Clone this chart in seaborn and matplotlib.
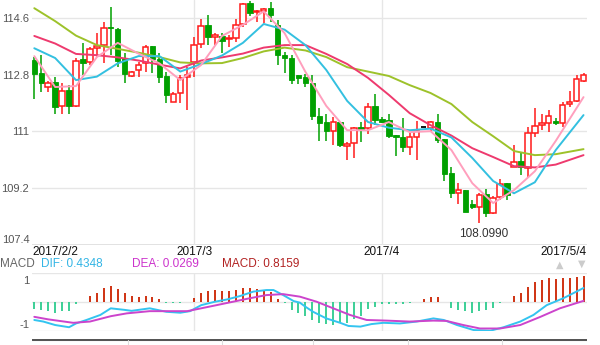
import numpy as np
import pandas as pd
import matplotlib
matplotlib.use("Agg")
import matplotlib.pyplot as plt
import seaborn as sns

# ---------------- data ----------------
x_labels = ["2017/2/2", "2017/3", "2017/4", "2017/5/4"]
x_label_idx = [0, 23, 50, 79]
price_ticks = [107.4, 109.2, 111, 112.8, 114.6]

opens = [113.27, 112.86, 112.40, 112.56, 111.81, 112.31, 111.81, 113.29, 113.19, 113.64,
         113.74, 114.32, 114.24, 113.32, 112.77, 112.95, 113.16, 113.71, 113.29, 112.76,
         111.95, 112.21, 112.72, 113.19, 113.77, 114.38, 113.99, 114.04, 113.92, 113.96,
         114.41, 115.09, 114.78, 114.83, 114.91, 114.38, 113.43, 113.32, 112.79, 112.74,
         112.55, 111.49, 111.29, 111.02, 111.29, 110.55, 110.62, 111.13, 111.10, 111.81,
         111.39, 111.36, 110.89, 110.83, 110.50, 110.83, 111.13, 111.10, 111.29, 110.76,
         109.67, 109.05, 109.14, 108.70, 108.61, 109.03, 108.42, 108.91, 109.38, 109.88,
         110.06, 109.83, 110.96, 111.20, 111.26, 111.33, 111.28, 111.86, 111.96, 112.61]
highs = [113.36, 113.43, 112.60, 112.74, 112.53, 112.47, 113.32, 113.82, 113.69, 114.13,
         114.46, 114.94, 114.27, 113.48, 112.93, 113.21, 113.74, 113.71, 113.48, 112.90,
         112.26, 112.79, 113.05, 114.01, 114.56, 114.70, 114.11, 114.11, 114.06, 114.56,
         115.06, 115.15, 114.85, 114.91, 115.12, 114.54, 113.53, 113.43, 112.79, 112.82,
         112.79, 111.73, 111.57, 111.45, 111.29, 110.67, 111.15, 111.31, 111.91, 112.19,
         111.47, 111.57, 110.89, 111.42, 110.96, 111.33, 111.13, 111.33, 111.55, 110.76,
         109.86, 109.37, 109.14, 108.82, 109.05, 109.19, 108.95, 109.48, 109.38, 110.57,
         110.36, 111.15, 111.73, 111.57, 111.68, 111.42, 111.94, 112.28, 112.79, 112.86]
lows = [112.03, 112.26, 112.26, 111.57, 111.55, 111.57, 111.78, 112.79, 113.11, 113.37,
        113.18, 113.43, 113.05, 112.53, 112.74, 112.74, 112.90, 112.86, 112.53, 111.89,
        111.94, 111.89, 111.68, 112.74, 113.64, 113.74, 113.74, 113.50, 113.69, 113.85,
        114.32, 114.66, 114.48, 114.43, 114.48, 113.11, 112.84, 112.50, 112.50, 112.42,
        111.36, 110.70, 110.70, 110.57, 110.50, 110.09, 110.15, 110.67, 110.92, 111.20,
        111.26, 110.78, 110.22, 110.36, 110.25, 110.09, 111.13, 110.99, 110.62, 109.43,
        108.88, 108.70, 108.45, 108.53, 108.099, 108.29, 108.38, 108.84, 108.84, 109.86,
        109.62, 109.56, 110.83, 111.04, 110.99, 111.20, 111.15, 111.78, 111.94, 112.58]
closes = [112.82, 112.55, 112.53, 111.78, 112.29, 111.81, 113.23, 113.18, 113.61, 113.72,
          114.27, 114.27, 113.24, 112.82, 112.90, 113.11, 113.67, 113.29, 112.72, 112.16,
          112.18, 112.69, 112.78, 113.74, 114.35, 113.99, 114.06, 113.88, 113.96, 114.38,
          115.04, 114.75, 114.82, 114.88, 114.70, 113.43, 113.32, 112.63, 112.71, 112.53,
          111.49, 111.28, 111.02, 111.29, 110.57, 110.59, 111.10, 111.08, 111.78, 111.36,
          111.31, 110.85, 110.81, 110.50, 110.83, 111.01, 111.13, 111.29, 110.73, 109.65,
          109.05, 109.14, 108.45, 108.59, 109.00, 108.42, 108.88, 109.35, 108.98, 110.02,
          109.86, 110.96, 111.17, 111.26, 111.49, 111.28, 111.84, 111.92, 112.65, 112.79]

ma_idx = [0, 3, 6, 9, 12, 15, 18, 21, 24, 27, 30, 33, 36, 39, 42, 45, 48, 51, 54, 57,
          60, 63, 66, 69, 72, 75, 79]
ma5 = [113.39, 112.41, 112.44, 113.36, 113.81, 113.47, 113.16, 112.63, 113.11, 114.03,
       114.38, 114.81, 114.12, 112.89, 111.81, 111.04, 111.04, 111.30, 110.98, 111.01,
       110.41, 109.36, 108.73, 109.14, 109.74, 110.70, 112.09]
ma10 = [113.64, 113.33, 112.63, 112.74, 113.16, 113.39, 113.39, 112.90, 113.14, 113.41,
        113.81, 114.41, 114.23, 113.74, 112.95, 111.97, 111.30, 111.12, 111.04, 111.09,
        110.81, 110.16, 109.43, 109.04, 109.39, 110.41, 111.52]
ma20 = [114.03, 113.79, 113.46, 113.42, 113.35, 113.25, 113.12, 113.00, 113.25, 113.35,
        113.47, 113.66, 113.74, 113.74, 113.46, 113.14, 112.70, 112.16, 111.58, 111.20,
        110.87, 110.47, 110.19, 109.90, 109.86, 109.95, 110.25]
ma30 = [114.91, 114.50, 114.04, 113.74, 113.62, 113.50, 113.36, 113.19, 113.16, 113.17,
        113.33, 113.54, 113.66, 113.57, 113.36, 113.04, 112.90, 112.76, 112.47, 112.22,
        111.87, 111.30, 110.85, 110.38, 110.25, 110.28, 110.44]

macd_hist = [-0.23, -0.27, -0.29, -0.35, -0.31, -0.29, -0.07, -0.01, 0.18, 0.29,
             0.42, 0.50, 0.40, 0.27, 0.18, 0.16, 0.19, 0.16, 0.07, -0.03,
             -0.05, -0.03, -0.02, 0.13, 0.29, 0.34, 0.37, 0.35, 0.35, 0.37,
             0.42, 0.44, 0.40, 0.37, 0.31, 0.10, -0.05, -0.27, -0.37, -0.45,
             -0.58, -0.69, -0.71, -0.74, -0.69, -0.66, -0.56, -0.45, -0.24, -0.16,
             -0.08, -0.07, -0.07, -0.07, -0.05, -0.01, 0.08, 0.16, 0.14, -0.02,
             -0.19, -0.27, -0.29, -0.35, -0.29, -0.27, -0.21, -0.05, 0.00, 0.19,
             0.29, 0.48, 0.62, 0.69, 0.74, 0.72, 0.74, 0.74, 0.79, 0.8159]

dif_idx = [0, 1.3, 3, 5, 6, 7.5, 9.5, 11, 13, 14, 16.6, 19, 21, 22.4, 24, 26, 27.7, 29.6,
           31.5, 33.4, 34.4, 35.8, 37.3, 38.2, 39, 40.1, 42, 44, 45.2, 46.9, 48.5, 50.2,
           52.6, 55, 57.4, 58.9, 60.8, 63.2, 65.6, 67.5, 69.9, 71.8, 73.7, 76.1, 79]
dif = [-0.58, -0.63, -0.74, -0.81, -0.69, -0.58, -0.42, -0.21, -0.26, -0.29, -0.21, -0.32,
       -0.35, -0.30, -0.11, 0.00, 0.07, 0.18, 0.32, 0.37, 0.37, 0.21, 0.02, -0.03, -0.16,
       -0.32, -0.53, -0.67, -0.77, -0.79, -0.71, -0.67, -0.69, -0.63, -0.53, -0.58, -0.74,
       -0.90, -0.92, -0.81, -0.63, -0.42, -0.11, 0.11, 0.4348]
dea_idx = [0, 2, 5.6, 8, 11, 13.3, 16.6, 20, 22, 24, 26.2, 28.6, 31, 33.4, 35.8, 38.2,
           40.6, 43, 45.4, 47.8, 50.7, 54, 57.4, 59.3, 61.7, 64.1, 67, 69.9, 72.8, 75.6, 79]
dea = [-0.48, -0.56, -0.67, -0.63, -0.46, -0.37, -0.30, -0.30, -0.30, -0.21, -0.11, 0.00,
       0.11, 0.21, 0.24, 0.16, 0.00, -0.21, -0.42, -0.58, -0.60, -0.63, -0.60, -0.61,
       -0.74, -0.85, -0.85, -0.74, -0.48, -0.21, 0.0269]

# ---------------- style ----------------
sns.set_theme(style="white")
plt.rcParams["font.family"] = ["Liberation Sans", "DejaVu Sans"]

W, H = 600, 345
fig = plt.figure(figsize=(W / 100, H / 100), dpi=100)
fig.patch.set_facecolor("white")

def fx(px):
    return px / W

def fy(py):
    return (H - py) / H

GRID = "#e6e6e6"
RED = "#ff1a1a"
GREEN = "#00a000"

# ---------------- main price axes ----------------
ax = fig.add_axes([fx(32), fy(245), fx(587) - fx(32), fy(0) - fy(245)])
ax.set_xlim(-0.33, 79.5)
ax.set_ylim(107.4, 115.17)
for s in ax.spines.values():
    s.set_visible(False)
ax.axhline(107.4, color="#dddddd", lw=1.2, zorder=0)
for t in price_ticks[1:]:
    ax.axhline(t, color=GRID, lw=1, zorder=0)
for i in x_label_idx[1:3]:
    ax.axvline(i, color=GRID, lw=1, zorder=0)
ax.set_xticks([])
ax.set_yticks(price_ticks)
ax.set_yticklabels(["107.4", "109.2", "111", "112.8", "114.6"])
ax.tick_params(axis="y", length=0, pad=2, labelsize=8, labelcolor="#555555")
for lab in ax.get_yticklabels():
    if lab.get_text() == "107.4":
        lab.set_verticalalignment("bottom")

df = pd.DataFrame({"o": opens, "h": highs, "l": lows, "c": closes})
df["i"] = np.arange(len(df))
bw = 0.78
for _, r in df.iterrows():
    i = r["i"]
    if r["c"] > r["o"]:
        col = RED
        ax.vlines(i, r["l"], r["h"], color=col, lw=1.1, zorder=2)
        ax.bar(i, max(r["c"] - r["o"], 0.02), bottom=r["o"], width=bw,
               facecolor="white", edgecolor=col, linewidth=1.1, zorder=2.5)
    elif r["c"] < r["o"]:
        col = GREEN
        ax.vlines(i, r["l"], r["h"], color=col, lw=1.1, zorder=2)
        ax.bar(i, max(r["o"] - r["c"], 0.02), bottom=r["c"], width=bw,
               facecolor=col, edgecolor=col, linewidth=0.6, zorder=2.5)
    else:
        ax.hlines(r["o"], i - bw / 2, i + bw / 2, color="#111111", lw=1.4, zorder=2.5)

ma_df = pd.DataFrame({"i": ma_idx, "ma5": ma5, "ma10": ma10, "ma20": ma20, "ma30": ma30})
for key, col in [("ma30", "#9dc22a"), ("ma20", "#ee3a6e"), ("ma10", "#33c0e0"), ("ma5", "#ff9fbd")]:
    sns.lineplot(data=ma_df, x="i", y=key, ax=ax, color=col, lw=1.4, zorder=3)
ax.set_xlabel("")
ax.set_ylabel("")

imin = int(np.argmin(lows))
ax.annotate(f"{lows[imin]:.4f}", xy=(imin, lows[imin]), xytext=(3, -8),
            textcoords="offset points", ha="center", va="center",
            fontsize=8.5, color="#333333")

# x date labels
fig.text(fx(32), fy(252), x_labels[0], ha="left", va="center", fontsize=8.5, color="#111111")
for lab, i in zip(x_labels[1:3], x_label_idx[1:3]):
    xd = ax.transData.transform((i, 110))[0] / W
    fig.text(xd, fy(252), lab, ha="center", va="center", fontsize=8.5, color="#111111")
fig.text(fx(587), fy(252), x_labels[3], ha="right", va="center", fontsize=8.5, color="#111111")

# ---------------- MACD axes ----------------
ax2 = fig.add_axes([fx(32), fy(330.7), fx(587) - fx(32), fy(272.7) - fy(330.7)])
ax2.set_xlim(-0.33, 79.5)
ax2.set_ylim(-0.92, 0.92)
for s in ax2.spines.values():
    s.set_visible(False)
for yv in (-0.92, 0, 0.92):
    ax2.axhline(yv, color=GRID, lw=1, zorder=0)
for i in x_label_idx[1:3]:
    ax2.axvline(i, color=GRID, lw=1, zorder=0)
ax2.set_xticks([])
ax2.set_yticks([])
hist_x = np.arange(len(macd_hist))
hist_cols = ["#cc2200" if v > 0 else "#2dcc8e" for v in macd_hist]
ax2.vlines(hist_x, 0, macd_hist, colors=hist_cols, lw=1.3, zorder=2)
sns.lineplot(x=dif_idx, y=dif, ax=ax2, color="#33c4f0", lw=1.4, zorder=3)
sns.lineplot(x=dea_idx, y=dea, ax=ax2, color="#cc44cc", lw=1.4, zorder=3)
ax2.set_xlabel("")
ax2.set_ylabel("")
fig.text(fx(29), fy(281), "1", ha="right", va="center", fontsize=8, color="#555555")
fig.text(fx(29), fy(325), "-1", ha="right", va="center", fontsize=8, color="#555555")

# legend line
ly = fy(264)
fig.text(fx(0), ly, "MACD", ha="left", va="center", fontsize=8.5, color="#666666")
fig.text(fx(41), ly, f"DIF: {dif[-1]:.4f}", ha="left", va="center", fontsize=8.5, color="#33b5e5")
fig.text(fx(132), ly, f"DEA: {dea[-1]:.4f}", ha="left", va="center", fontsize=8.5, color="#cc33cc")
fig.text(fx(222), ly, f"MACD: {macd_hist[-1]:.4f}", ha="left", va="center", fontsize=8.5, color="#b22222")
fig.text(fx(560), fy(265), "▲", ha="center", va="center", fontsize=7, color="#cccccc",
         family=["DejaVu Sans"])
fig.text(fx(582), fy(264), "▼", ha="center", va="center", fontsize=7, color="#cccccc",
         family=["DejaVu Sans"])

# navigator strip
nav = fig.add_axes([fx(32), 0, fx(587) - fx(32), fy(339)])
nav.set_xlim(0, 1)
nav.set_ylim(0, 1)
nav.axis("off")
nav.axhline(1, color="#555555", lw=2.2)
for xv in (127.7, 221.7, 313, 408, 502):
    nav.axvline((xv - 32) / 555, ymax=0.9, color="#dddddd", lw=0.8)

fig.savefig("out.png", dpi=100, facecolor="white")
